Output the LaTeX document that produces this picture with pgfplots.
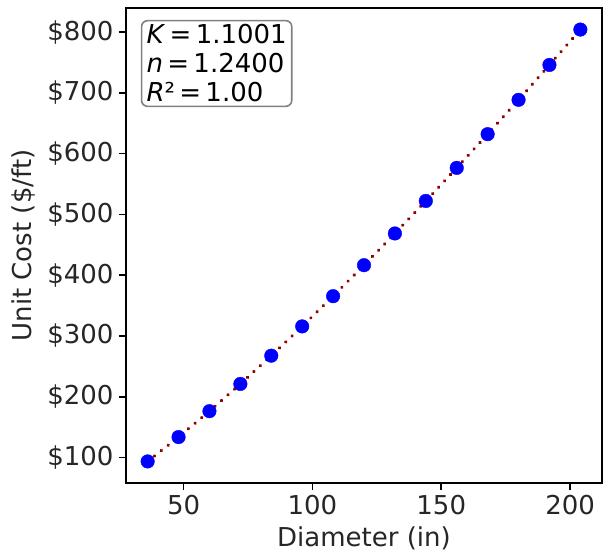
\documentclass[border=0pt]{standalone}
\usepackage{fontspec}
\setmainfont{DejaVu Sans}
\usepackage{pgfplots}
\pgfplotsset{compat=1.18}
\begin{document}
\begin{tikzpicture}
\begin{axis}[
  width=476bp, height=475bp, scale only axis,
  xmin=27.6, xmax=212.4, ymin=58.1, ymax=839.7,
  xtick={50,100,150,200},
  ytick={100,200,300,400,500,600,700,800},
  yticklabel={\$\pgfmathprintnumber{\tick}},
  /pgf/number format/assume math mode=true,
  tick align=outside, tick pos=left,
  major tick length=7bp,
  every tick/.style={line width=1.6bp, black},
  axis line style={line width=1.6bp},
  tick label style={font=\fontsize{26bp}{30bp}\selectfont, text=black!85},
  label style={font=\fontsize{26bp}{30bp}\selectfont, text=black!85},
  xticklabel style={yshift=-2bp},
  yticklabel style={xshift=-2bp},
  xlabel={Diameter (in)},
  ylabel={Unit Cost (\$/ft)},
  xlabel style={yshift=-5bp},
  ylabel style={yshift=5bp},
  clip=false,
]
\addplot[only marks, mark=*, mark size=6.8bp, draw=blue, fill=blue] coordinates {
(36,93.6) (48,133.7) (60,176.3) (72,221.1) (84,267.6) (96,315.8) (108,365.5)
(120,416.5) (132,468.7) (144,522.2) (156,576.6) (168,632.1) (180,688.6)
(192,746.0) (204,804.2)
};
\addplot[no marks, color={rgb,255:red,139;green,0;blue,0}, line width=3.6bp, line cap=round, dash pattern=on 0.1bp off 8.6bp] coordinates {
(36,93.6) (48,133.7) (60,176.3) (72,221.1) (84,267.6) (96,315.8) (108,365.5)
(120,416.5) (132,468.7) (144,522.2) (156,576.6) (168,632.1) (180,688.6)
(192,746.0) (204,804.2)
};
\node[anchor=north west, draw=black!50, line width=1.6bp, rounded corners=6bp, fill=white,
  align=left, inner xsep=5bp, inner ysep=4bp,
  font=\fontsize{26bp}{29bp}\selectfont]
  at (rel axis cs:0.031,0.975)
  {\textit{K}\,=\,1.1001\\\textit{n}\,=\,1.2400\\\textit{R}²\,=\,1.00};
\end{axis}
\path (current axis.north east) ++(2bp,8bp);
\path (current axis.south west) ++(-126bp,-73bp);
\end{tikzpicture}
\end{document}
